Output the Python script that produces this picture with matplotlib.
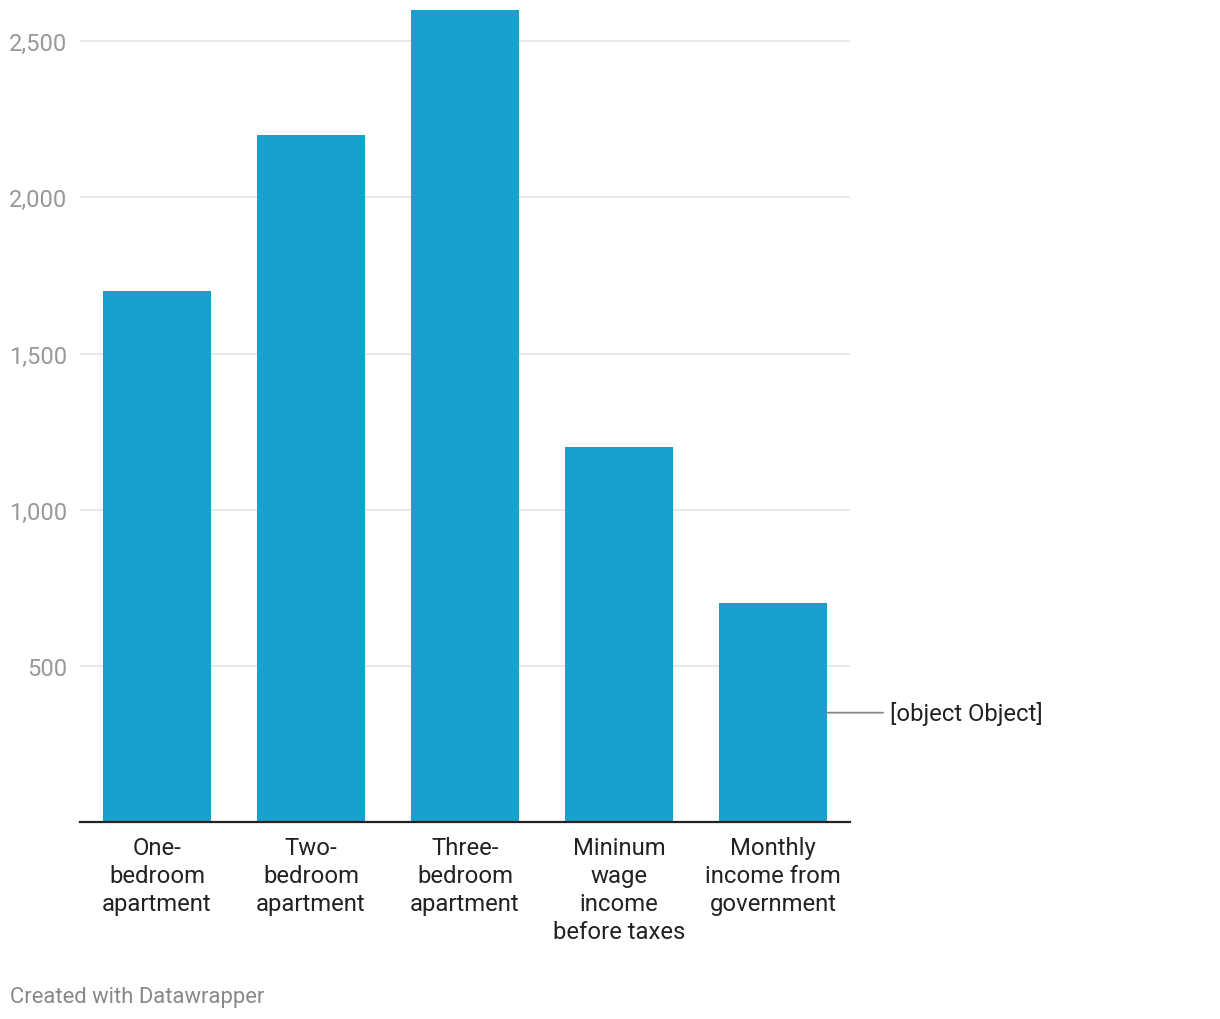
import matplotlib.pyplot as plt

categories = ["One-\nbedroom\napartment", "Two-\nbedroom\napartment", "Three-\nbedroom\napartment",
              "Mininum\nwage\nincome\nbefore taxes", "Monthly\nincome from\ngovernment"]
values = [1700, 2200, 2600, 1200, 700]
yticks = [500, 1000, 1500, 2000, 2500]

plt.rcParams['font.family'] = ['Roboto', 'DejaVu Sans']

fig = plt.figure(figsize=(12.2, 10.2), dpi=100)
ax = fig.add_axes([80 / 1220, 197 / 1020, 770 / 1220, 812 / 1020])

x = list(range(len(values)))
ax.bar(x, values, width=0.7, color='#18a1cd', zorder=2)

ax.set_xlim(-0.5, len(values) - 0.5)
ax.set_ylim(0, 2600)

ax.set_yticks(yticks)
ax.set_yticklabels([f"{v:,}" for v in yticks], fontsize=17, color='#999999')
ax.yaxis.grid(True, color='#e5e5e5', lw=1.3, zorder=0)
ax.tick_params(axis='y', length=0, pad=9)

ax.set_xticks(x)
ax.set_xticklabels(categories, fontsize=17.2, color='#222222', linespacing=1.28, va='top')
ax.tick_params(axis='x', length=0, pad=10)

for side in ['top', 'right', 'left']:
    ax.spines[side].set_visible(False)
ax.spines['bottom'].set_color('#222222')
ax.spines['bottom'].set_linewidth(1.6)
ax.spines['bottom'].set_zorder(3)

# label pointer on the last bar
last = len(values) - 1
ax.annotate('[object Object]', xy=(last + 0.35, values[last] / 2), xytext=(last + 0.76, values[last] / 2),
            ha='left', va='center', fontsize=17.2, color='#222222', annotation_clip=False,
            arrowprops=dict(arrowstyle='-', color='#888888', lw=1.3, shrinkA=3, shrinkB=0))

fig.text(10 / 1220, 1 - 998 / 1020, 'Created with Datawrapper', fontsize=15.8, color='#888888',
         ha='left', va='center')

fig.savefig('out.png', dpi=100)
